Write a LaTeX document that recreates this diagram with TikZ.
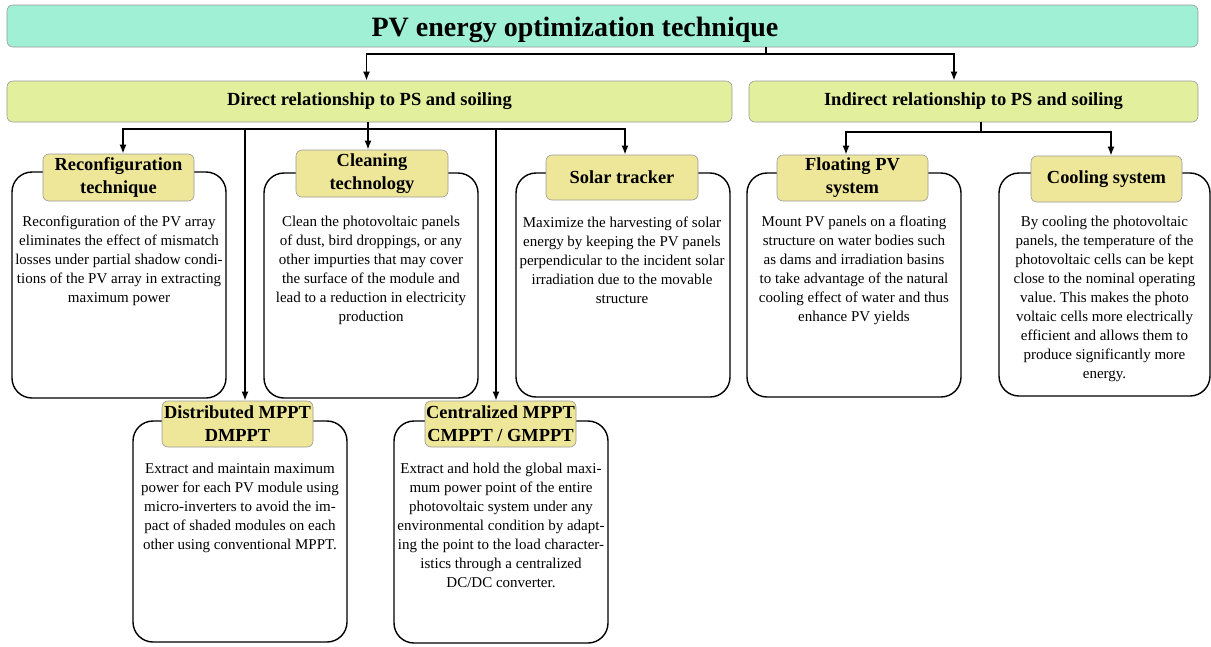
\documentclass[tikz,border=0pt]{standalone}
\usepackage{fontspec}
\setmainfont{Liberation Serif}
\frenchspacing
\usetikzlibrary{arrows.meta,calc}
\definecolor{mint}{HTML}{9FF0D4}
\definecolor{lime}{HTML}{E2F09E}
\definecolor{khaki}{HTML}{EEE698}
\definecolor{edge}{HTML}{9A9A9A}

\begin{document}
\begin{tikzpicture}[x=1pt,y=-1pt,
  panel/.style={draw=black, line width=1.4pt, rounded corners=20pt, fill=white, inner sep=0pt},
  tagbox/.style={draw=edge, line width=0.6pt, fill=khaki, rounded corners=6pt, inner sep=0pt,
    align=center, font=\fontsize{18.4}{23}\selectfont\bfseries},
  head/.style={draw=edge, line width=0.6pt, rounded corners=6pt, inner sep=0pt},
  body/.style={align=center, inner sep=0pt, anchor=north, font=\fontsize{15}{19}\selectfont},
  bus/.style={line width=1.7pt},
  arr/.style={line width=1.7pt, -{Latex[length=9pt,width=7pt]}},
]
\useasboundingbox (0,0) rectangle (1211,646);

% top level and the two families
\node[head, fill=mint, minimum width=1191, minimum height=42] (title) at (602.5,26) {};
\node[inner sep=0pt, anchor=base, font=\fontsize{28}{32}\selectfont\bfseries] (titletext) at (575,36) {PV energy optimization technique};
\node[head, fill=lime, minimum width=725, minimum height=41, font=\fontsize{18.5}{22}\selectfont\bfseries] (direct) at (369.5,101.5) {Direct relationship to PS and soiling};
\node[head, fill=lime, minimum width=449, minimum height=41, font=\fontsize{18.5}{22}\selectfont\bfseries] (indirect) at (973.5,101.5) {Indirect relationship to PS and soiling};

% technique panels
\node[panel, minimum width=214, minimum height=226] (reconf) at (119,285) {};
\node[panel, minimum width=214, minimum height=225] (clean)  at (371,285.5) {};
\node[panel, minimum width=214, minimum height=224] (solar)  at (623,285) {};
\node[panel, minimum width=214, minimum height=224] (float)  at (854,285) {};
\node[panel, minimum width=211, minimum height=223] (cool)   at (1104.5,284.5) {};
\node[panel, minimum width=214, minimum height=221] (dist)   at (240,531.5) {};
\node[panel, minimum width=214, minimum height=222] (cent)   at (501,532) {};

% panel titles
\node[tagbox, minimum width=151, minimum height=47] (reconf-t) at (118.5,177.5) {Reconfiguration\\technique};
\node[tagbox, minimum width=152, minimum height=47] (clean-t)  at (372,173.5) {Cleaning\\technology};
\node[tagbox, minimum width=152, minimum height=45] (solar-t)  at (622,177.5) {Solar tracker};
\node[tagbox, minimum width=151, minimum height=46] (float-t)  at (852.5,178) {Floating PV\\system};
\node[tagbox, minimum width=151, minimum height=46] (cool-t)   at (1106.5,179) {Cooling system};
\node[tagbox, minimum width=151, minimum height=46] (dist-t)   at (237.5,424) {Distributed MPPT\\DMPPT};
\node[tagbox, minimum width=151, minimum height=46] (cent-t)   at (500.5,424) {Centralized MPPT\\CMPPT / GMPPT};

% panel descriptions
\node[body] (reconf-b) at ($(reconf.north)+(0,44)$) {Reconfiguration of the PV array\\eliminates the effect of mismatch\\losses under partial shadow condi-\\tions of the PV array in extracting\\maximum power};
\node[body] (clean-b) at ($(clean.north)+(0,44)$) {Clean the photovoltaic panels\\of dust, bird droppings, or any\\other impurties that may cover\\the surface of the module and\\lead to a reduction in electricity\\production};
\node[body] (solar-b) at ($(solar.north)+(-1,44)$) {Maximize the harvesting of solar\\energy by keeping the PV panels\\perpendicular to the incident solar\\irradiation due to the movable\\structure};
\node[body] (float-b) at ($(float.north)+(0,43)$) {Mount PV panels on a floating\\structure on water bodies such\\as dams and irradiation basins\\to take advantage of the natural\\cooling effect of water and thus\\enhance PV yields};
\node[body] (cool-b) at ($(cool.north)+(0,44)$) {By cooling the photovoltaic\\panels, the temperature of the\\photovoltaic cells can be kept\\close to the nominal operating\\value. This makes the photo\\voltaic cells more electrically\\efficient and allows them to\\produce significantly more\\energy.};
\node[body] (dist-b) at ($(dist.north)+(0,43)$) {Extract and maintain maximum\\power for each PV module using\\micro-inverters to avoid the im-\\pact of shaded modules on each\\other using conventional MPPT.};
\node[body] (cent-b) at ($(cent.north)+(0,43)$) {Extract and hold the global maxi-\\mum power point of the entire\\photovoltaic system under any\\environmental condition by adapt-\\ing the point to the load character-\\istics through a centralized\\DC/DC converter.};

% connectors from the top level
\coordinate (tb) at (766,54);
\draw[bus] (title.south -| tb) -- (tb);
\draw[arr] (tb) -| ([xshift=-3pt]direct.north);
\draw[arr] (tb) -| ([xshift=-19.5pt]indirect.north);

% connectors of the direct family
\coordinate (db) at (368,129);
\draw[bus] (direct.south -| db) -- (db);
\draw[arr] (db) -| ([xshift=4.5pt]reconf-t.north);
\draw[arr] (db) -- (db |- clean-t.north);
\draw[arr] (db) -| ([xshift=3pt]solar-t.north);
\draw[arr] (db) -| ([xshift=7.5pt]dist-t.north);
\draw[arr] (db) -| ([xshift=-4.5pt]cent-t.north);

% connectors of the indirect family
\coordinate (ib) at (981,132);
\draw[bus] (indirect.south -| ib) -- (ib);
\draw[arr] (ib) -| ([xshift=-6.5pt]float-t.north);
\draw[arr] (ib) -| ([xshift=4.5pt]cool-t.north);
\end{tikzpicture}
\end{document}
